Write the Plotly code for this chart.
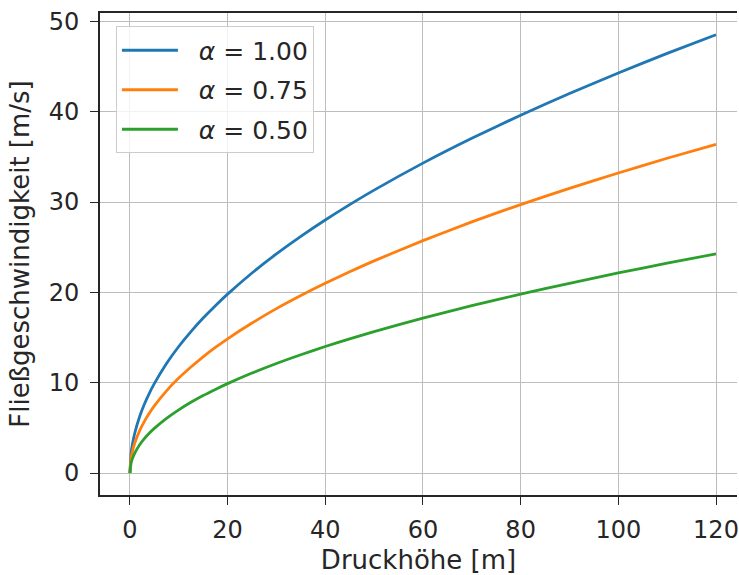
import plotly.graph_objects as go

# Druckhöhe h [m]
h = [0, 0.25, 0.5, 1, 2, 3, 4, 5, 7.5, 10, 12.5, 15, 17.5, 20, 25, 30, 35, 40, 45, 50, 60, 70, 80, 90, 100, 110, 120]
# Fließgeschwindigkeit [m/s]
v_100 = [0, 2.21, 3.13, 4.43, 6.26, 7.67, 8.86, 9.90, 12.13, 14.01, 15.66, 17.16, 18.53, 19.81, 22.15, 24.26,
         26.20, 28.01, 29.71, 31.32, 34.31, 37.06, 39.62, 42.02, 44.29, 46.46, 48.52]
v_075 = [0, 1.66, 2.35, 3.32, 4.70, 5.75, 6.64, 7.43, 9.10, 10.51, 11.74, 12.87, 13.90, 14.86, 16.61, 18.20,
         19.65, 21.01, 22.28, 23.49, 25.73, 27.80, 29.72, 31.52, 33.22, 34.85, 36.39]
v_050 = [0, 1.11, 1.57, 2.21, 3.13, 3.83, 4.43, 4.95, 6.06, 7.00, 7.83, 8.58, 9.26, 9.90, 11.07, 12.13,
         13.10, 14.01, 14.86, 15.66, 17.16, 18.53, 19.81, 21.01, 22.15, 23.23, 24.26]
labels = ["&nbsp;&nbsp;<i>α</i> = 1.00", "&nbsp;&nbsp;<i>α</i> = 0.75", "&nbsp;&nbsp;<i>α</i> = 0.50"]
colors = ["#1f77b4", "#ff7f0e", "#2ca02c"]
x_ticks = [0, 20, 40, 60, 80, 100, 120]
y_ticks = [0, 10, 20, 30, 40, 50]

fig = go.Figure()
for i, (vals, lab, col) in enumerate(zip([v_100, v_075, v_050], labels, colors)):
    fig.add_trace(go.Scatter(x=h, y=vals, mode="lines", name=lab, legendgroup=f"g{i}",
                             line=dict(color=col, width=2.8, shape="spline", smoothing=0.6)))

font = dict(family="DejaVu Sans", size=24, color="#262626")
fig.update_layout(
    width=739, height=575,
    margin=dict(l=100, r=0, t=13, b=80),
    paper_bgcolor="white", plot_bgcolor="white",
    font=font,
    showlegend=True,
    legend=dict(x=0.025, y=0.972, xanchor="left", yanchor="top",
                bgcolor="rgba(255,255,255,0.8)", bordercolor="#cccccc", borderwidth=1,
                font=dict(family="DejaVu Sans", size=25, color="#262626"),
                itemwidth=56, tracegroupgap=4),
)
fig.update_xaxes(
    range=[-6.12, 124.3], tickvals=x_ticks, ticks="outside", ticklen=8, tickwidth=1.3,
    tickcolor="#262626", showline=True, linecolor="#262626", linewidth=1.8, mirror=True,
    showgrid=True, gridcolor="#bdbdbd", gridwidth=1.3, zeroline=False,
    tickfont=dict(size=24), ticklabeloverflow="allow", ticklabelstandoff=4,
    title=dict(text="Druckhöhe [m]", font=dict(family="DejaVu Sans", size=26), standoff=11),
)
fig.update_yaxes(
    range=[-2.43, 50.93], tickvals=y_ticks, ticks="outside", ticklen=8, tickwidth=1.3,
    tickcolor="#262626", showline=True, linecolor="#262626", linewidth=1.8,
    showgrid=True, gridcolor="#bdbdbd", gridwidth=1.3, zeroline=False,
    tickfont=dict(size=24), ticklabelstandoff=6,
    title=dict(text="Fließgeschwindigkeit [m/s]", font=dict(family="DejaVu Sans", size=26), standoff=12),
)
fig.write_html("out.html")
